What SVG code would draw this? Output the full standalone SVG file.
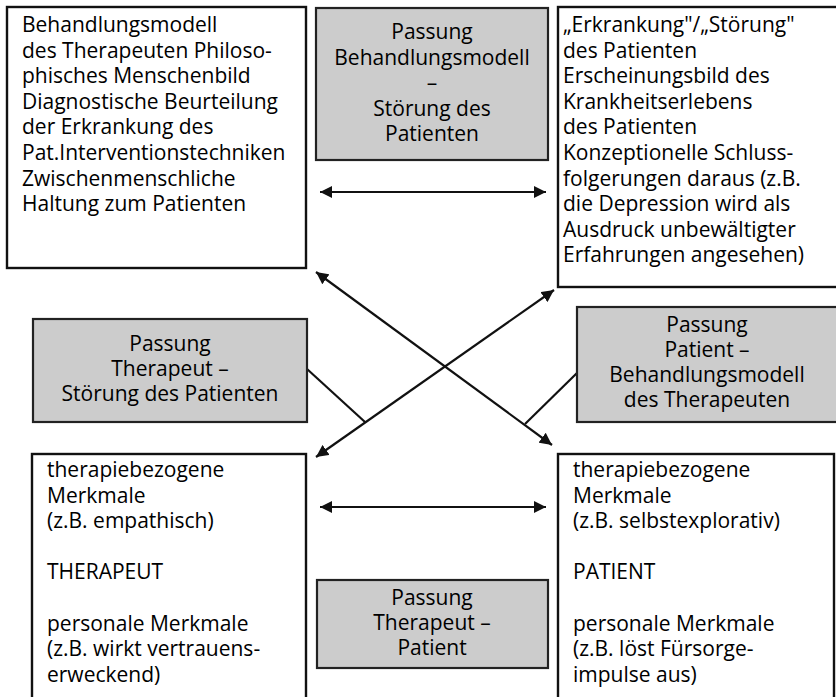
<svg xmlns="http://www.w3.org/2000/svg" width="836" height="697" viewBox="0 0 836 697">
  <defs>
    <style>
      .box { fill: #ffffff; stroke: #111111; stroke-width: 2.4; }
      .fit { fill: #cccccc; stroke: #222222; stroke-width: 2.2; }
      text { font-family: "Open Sans", "Noto Sans", "DejaVu Sans", sans-serif; font-size: 21px; fill: #000000; }
      .c { text-anchor: middle; }
      .con { stroke: #111111; stroke-width: 2.2; fill: none; }
    </style>
    <marker id="ah" viewBox="0 0 10 10" refX="10" refY="5" markerWidth="5.6" markerHeight="5.6" orient="auto-start-reverse" markerUnits="strokeWidth">
      <path d="M0,0 L10,5 L0,10 z" fill="#111111"/>
    </marker>
  </defs>

  <rect width="836" height="697" fill="#ffffff"/>

  <!-- connectors -->
  <g id="connectors">
    <line class="con" x1="320" y1="192" x2="546" y2="192" marker-start="url(#ah)" marker-end="url(#ah)"/>
    <line class="con" x1="320" y1="507" x2="546" y2="507" marker-start="url(#ah)" marker-end="url(#ah)"/>
    <line class="con" x1="316" y1="272" x2="552" y2="445" marker-start="url(#ah)" marker-end="url(#ah)"/>
    <line class="con" x1="554" y1="290" x2="316" y2="457" marker-start="url(#ah)" marker-end="url(#ah)"/>
    <line class="con" x1="307" y1="369" x2="365" y2="422"/>
    <line class="con" x1="577" y1="373" x2="525" y2="424"/>
  </g>

  <!-- model of the therapist -->
  <g id="behandlungsmodell">
    <rect class="box" x="7" y="7" width="299" height="261"/>
    <text x="22" y="32">Behandlungsmodell</text>
    <text x="22" y="57.6">des Therapeuten Philoso-</text>
    <text x="22" y="83.2">phisches Menschenbild</text>
    <text x="22" y="108.8">Diagnostische Beurteilung</text>
    <text x="22" y="134.4">der Erkrankung des</text>
    <text x="22" y="160">Pat.Interventionstechniken</text>
    <text x="22" y="185.6">Zwischenmenschliche</text>
    <text x="22" y="211.2">Haltung zum Patienten</text>
  </g>

  <g id="passung-modell-stoerung">
    <rect class="fit" x="316" y="8" width="232" height="152"/>
    <text class="c" x="432" y="39">Passung</text>
    <text class="c" x="432" y="64.5">Behandlungsmodell</text>
    <text class="c" x="432" y="90">–</text>
    <text class="c" x="432" y="115.5">Störung des</text>
    <text class="c" x="432" y="141">Patienten</text>
  </g>

  <!-- the patient's disorder -->
  <g id="erkrankung">
    <rect class="box" x="558" y="7" width="290" height="280"/>
    <text x="563" y="32">„Erkrankung"/„Störung"</text>
    <text x="563" y="57.6">des Patienten</text>
    <text x="563" y="83.2">Erscheinungsbild des</text>
    <text x="563" y="108.8">Krankheitserlebens</text>
    <text x="563" y="134.4">des Patienten</text>
    <text x="563" y="160">Konzeptionelle Schluss-</text>
    <text x="563" y="185.6">folgerungen daraus (z.B.</text>
    <text x="563" y="211.2">die Depression wird als</text>
    <text x="563" y="236.8">Ausdruck unbewältigter</text>
    <text x="563" y="262.4">Erfahrungen angesehen)</text>
  </g>

  <g id="passung-therapeut-stoerung">
    <rect class="fit" x="33" y="319" width="274" height="103"/>
    <text class="c" x="170" y="351">Passung</text>
    <text class="c" x="170" y="376">Therapeut –</text>
    <text class="c" x="170" y="401">Störung des Patienten</text>
  </g>

  <g id="passung-patient-modell">
    <rect class="fit" x="577" y="307" width="270" height="115"/>
    <text class="c" x="707" y="332">Passung</text>
    <text class="c" x="707" y="357">Patient –</text>
    <text class="c" x="707" y="382">Behandlungsmodell</text>
    <text class="c" x="707" y="407">des Therapeuten</text>
  </g>

  <!-- therapist -->
  <g id="therapeut">
    <rect class="box" x="32" y="454" width="274" height="260"/>
    <text x="47" y="477">therapiebezogene</text>
    <text x="47" y="502.6">Merkmale</text>
    <text x="47" y="528.2">(z.B. empathisch)</text>
    <text x="47" y="579.4">THERAPEUT</text>
    <text x="47" y="630.6">personale Merkmale</text>
    <text x="47" y="656.2">(z.B. wirkt vertrauens-</text>
    <text x="47" y="681.8">erweckend)</text>
  </g>

  <g id="passung-therapeut-patient">
    <rect class="fit" x="317" y="580" width="231" height="88"/>
    <text class="c" x="432" y="605">Passung</text>
    <text class="c" x="432" y="630">Therapeut –</text>
    <text class="c" x="432" y="655">Patient</text>
  </g>

  <!-- patient -->
  <g id="patient">
    <rect class="box" x="558" y="454" width="276" height="260"/>
    <text x="573" y="477">therapiebezogene</text>
    <text x="573" y="502.6">Merkmale</text>
    <text x="573" y="528.2">(z.B. selbstexplorativ)</text>
    <text x="573" y="579.4">PATIENT</text>
    <text x="573" y="630.6">personale Merkmale</text>
    <text x="573" y="656.2">(z.B. löst Fürsorge-</text>
    <text x="573" y="681.8">impulse aus)</text>
  </g>
</svg>
